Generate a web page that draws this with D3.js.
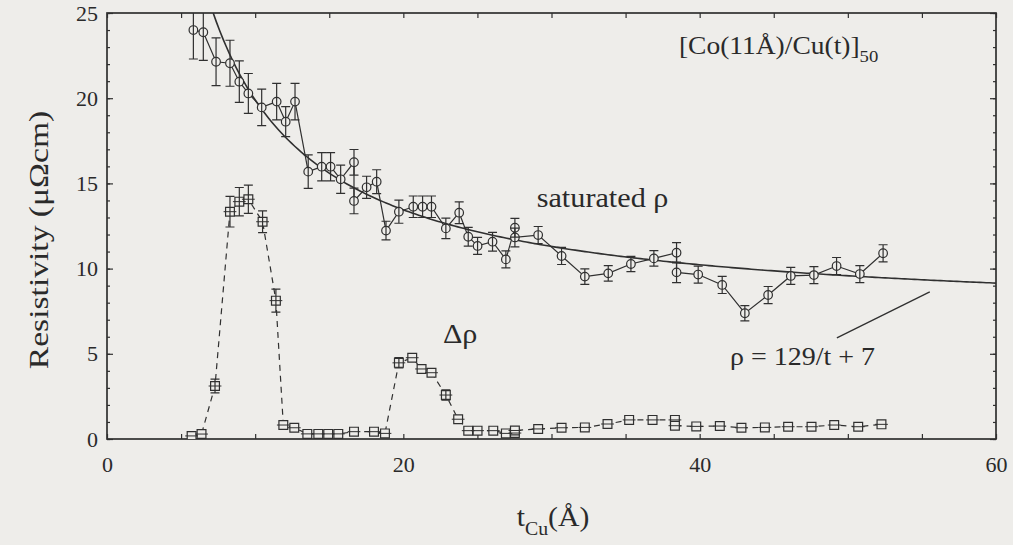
<!DOCTYPE html>
<html>
<head>
<meta charset="utf-8">
<script src="https://cdn.jsdelivr.net/npm/d3@7"></script>
<style>
  html, body { margin: 0; padding: 0; background: #eeedea; }
  svg { display: block; }
  svg text { font-family: "Liberation Serif", "DejaVu Serif", serif; fill: #2a2a2a; }
</style>
</head>
<body>
<svg id="chart" width="1013" height="545"></svg>
<script>
// Saturated resistivity of [Co(11Å)/Cu(t)]50 multilayers vs Cu thickness
const satT   = [5.83, 6.5, 7.36, 8.3, 8.93, 9.54, 10.44, 11.45, 12.06, 12.69, 13.58, 14.49, 15.09, 15.77,
                16.67, 16.67, 17.52, 18.2, 18.83, 19.7, 20.67, 21.3, 21.9, 22.87, 23.77, 24.38, 25.01,
                26.02, 26.92, 27.53, 27.53, 29.1, 30.68, 32.25, 33.83, 35.36, 36.91, 38.44, 38.44,
                39.9, 41.52, 43.05, 44.62, 46.15, 47.71, 49.24, 50.81, 52.38];
const satRho = [24.0, 23.87, 22.14, 22.05, 20.97, 20.28, 19.46, 19.8, 18.62, 19.8, 15.69, 15.98, 15.98, 15.24,
                16.24, 13.97, 14.77, 15.1, 12.23, 13.34, 13.63, 13.63, 13.63, 12.36, 13.28, 11.87, 11.33,
                11.58, 10.54, 12.4, 11.83, 11.97, 10.74, 9.53, 9.72, 10.27, 10.6, 10.93, 9.78,
                9.65, 9.04, 7.38, 8.45, 9.57, 9.62, 10.15, 9.68, 10.9];
const satErr = [1.7, 1.65, 1.4, 1.35, 1.22, 1.17, 1.07, 1.07, 0.88, 1.07, 0.98, 0.83, 0.83, 0.83,
                0.75, 0.75, 0.65, 0.7, 0.55, 0.68, 0.63, 0.63, 0.63, 0.6, 0.64, 0.55, 0.5,
                0.55, 0.5, 0.55, 0.55, 0.5, 0.5, 0.45, 0.45, 0.45, 0.45, 0.6, 0.6,
                0.5, 0.5, 0.45, 0.5, 0.5, 0.5, 0.5, 0.5, 0.5];

// Magnetoresistance amplitude Δρ
const deltaT   = [5.71, 6.38, 7.29, 8.3, 8.93, 9.54, 10.5, 11.4, 11.9, 12.64, 13.52, 14.26, 14.93, 15.61,
                  16.67, 18.02, 18.76, 19.7, 20.6, 21.23, 21.9, 22.87, 23.7, 24.38, 25.01, 26.07, 26.92,
                  27.53, 27.53, 29.1, 30.68, 32.25, 33.78, 35.24, 36.82, 38.33, 38.33, 39.77, 41.36,
                  42.82, 44.4, 45.97, 47.55, 49.08, 50.7, 52.27];
const deltaRho = [0.18, 0.29, 3.11, 13.34, 13.93, 14.07, 12.75, 8.12, 0.82, 0.66, 0.3, 0.3, 0.3, 0.3,
                  0.43, 0.43, 0.33, 4.47, 4.77, 4.11, 3.89, 2.58, 1.16, 0.49, 0.49, 0.49, 0.33,
                  0.35, 0.5, 0.59, 0.66, 0.68, 0.88, 1.12, 1.12, 1.12, 0.78, 0.74, 0.76,
                  0.66, 0.68, 0.72, 0.72, 0.82, 0.72, 0.86];
const deltaErr = [0.12, 0.12, 0.4, 0.9, 0.83, 0.83, 0.64, 0.68, 0.2, 0.2, 0.15, 0.15, 0.15, 0.15,
                  0.2, 0.2, 0.2, 0.3, 0.25, 0.2, 0.2, 0.3, 0.25, 0.15, 0.15, 0.15, 0.15,
                  0.15, 0.15, 0.15, 0.15, 0.15, 0.15, 0.15, 0.15, 0.15, 0.15, 0.15, 0.15,
                  0.15, 0.15, 0.15, 0.15, 0.15, 0.15, 0.15];

// Fit: ρ = A/t + B
const fitA = 129, fitB = 7;

const xTicks = [0, 20, 40, 60];
const yTicks = [0, 5, 10, 15, 20, 25];

const W = 1013, H = 545;
const margin = { left: 107, right: 17, top: 13, bottom: 106 };
const ink = "#303030";
const bg = "#eeedea";
const serif = "'Liberation Serif', 'DejaVu Serif', serif";

const svg = d3.select("#chart");
svg.append("rect").attr("width", W).attr("height", H).attr("fill", bg);

const x = d3.scaleLinear().domain([0, 60]).range([margin.left, W - margin.right]);
const y = d3.scaleLinear().domain([0, 25]).range([H - margin.bottom, margin.top]);

const [x0, x1] = x.range();
const [y0, y1] = y.range();

svg.append("clipPath").attr("id", "plot-clip")
  .append("rect").attr("x", x0).attr("y", y1).attr("width", x1 - x0).attr("height", y0 - y1);

// Axes: inward ticks on all four sides
function axisTicks(axis, scale, values, size) {
  return axis(scale).tickValues(values).tickSize(size).tickFormat("");
}
const xMinor = d3.range(0, 61, 5);
const yMinor = d3.range(0, 26, 1);
const yMajor = d3.range(0, 26, 5);

const axes = svg.append("g").attr("class", "axes");
function styleAxis(g) {
  g.select(".domain").remove();
  g.selectAll("line").attr("stroke", ink).attr("stroke-width", 1.2);
}
axes.append("g").attr("transform", `translate(0,${y0})`).call(axisTicks(d3.axisTop, x, xMinor, 5)).call(styleAxis);
axes.append("g").attr("transform", `translate(0,${y1})`).call(axisTicks(d3.axisBottom, x, xMinor, 5)).call(styleAxis);
axes.append("g").attr("transform", `translate(${x0},0)`).call(axisTicks(d3.axisRight, y, yMinor, 3)).call(styleAxis);
axes.append("g").attr("transform", `translate(${x0},0)`).call(axisTicks(d3.axisRight, y, yMajor, 6)).call(styleAxis);
axes.append("g").attr("transform", `translate(${x1},0)`).call(axisTicks(d3.axisLeft, y, yMinor, 3)).call(styleAxis);
axes.append("g").attr("transform", `translate(${x1},0)`).call(axisTicks(d3.axisLeft, y, yMajor, 6)).call(styleAxis);

// Frame
svg.append("rect").attr("x", x0).attr("y", y1).attr("width", x1 - x0).attr("height", y0 - y1)
  .attr("fill", "none").attr("stroke", ink).attr("stroke-width", 1.7);

// Tick labels
const xLab = d3.axisBottom(x).tickValues(xTicks).tickSize(0).tickPadding(0).tickFormat(d3.format("d"));
const gx = svg.append("g").attr("transform", `translate(0,${y0 + 26})`).call(xLab);
gx.attr("font-family", null).attr("font-size", null);
gx.select(".domain").remove();
gx.selectAll("text").attr("font-size", 22).attr("dy", "0.32em").attr("y", 0).attr("font-family", serif);

const yLab = d3.axisLeft(y).tickValues(yTicks).tickSize(0).tickPadding(0).tickFormat(d3.format("d"));
const gy = svg.append("g").attr("transform", `translate(${x0 - 9},0)`).call(yLab);
gy.attr("font-family", null).attr("font-size", null);
gy.select(".domain").remove();
gy.selectAll("text").attr("font-size", 22).attr("font-family", serif);

// Plot contents
const plot = svg.append("g").attr("clip-path", "url(#plot-clip)");

// Fit curve ρ = A/t + B from where it enters the frame to t = 60
const tStart = fitA / (25 - fitB);
const fitT = d3.range(0, 241).map(i => tStart + (60 - tStart) * i / 240);
plot.append("path")
  .attr("d", d3.line().x(t => x(t)).y(t => y(fitA / t + fitB))(fitT))
  .attr("fill", "none").attr("stroke", ink).attr("stroke-width", 1.6);

const sat = satT.map((t, i) => ({ t, v: satRho[i], e: satErr[i] }));
const del = deltaT.map((t, i) => ({ t, v: deltaRho[i], e: deltaErr[i] }));

// Δρ: dashed connecting line
plot.append("path")
  .attr("d", d3.line().x(d => x(d.t)).y(d => y(d.v))(del))
  .attr("fill", "none").attr("stroke", ink).attr("stroke-width", 1.2).attr("stroke-dasharray", "6,5");

// saturated ρ: connecting line
plot.append("path")
  .attr("d", d3.line().x(d => x(d.t)).y(d => y(d.v))(sat))
  .attr("fill", "none").attr("stroke", ink).attr("stroke-width", 1.2);

function errorBars(data, cap) {
  const g = plot.append("g").attr("stroke", ink).attr("stroke-width", 1.2).attr("fill", "none");
  g.selectAll("path").data(data).join("path")
    .attr("d", d => {
      const xa = x(d.t), ya = y(d.v + d.e), yb = y(d.v - d.e);
      return `M${xa - cap},${ya}H${xa + cap}M${xa},${ya}V${yb}M${xa - cap},${yb}H${xa + cap}`;
    });
}

// Squares
const sq = 4.4;
plot.append("g").selectAll("path").data(del).join("path")
  .attr("d", d => {
    const cx = x(d.t), cy = y(d.v);
    return `M${cx - sq},${cy - sq}h${2 * sq}v${2 * sq}h${-2 * sq}Z`;
  })
  .attr("fill", bg).attr("stroke", ink).attr("stroke-width", 1.2);
plot.append("g").selectAll("path").data(del).join("path")
  .attr("d", d => { const cx = x(d.t), cy = y(d.v); return `M${cx - sq - 2},${cy}H${cx + sq + 2}`; })
  .attr("stroke", ink).attr("stroke-width", 1);
errorBars(del.filter(d => d.e >= 0.3), 4.5);

// Circles
plot.append("g").selectAll("circle").data(sat).join("circle")
  .attr("cx", d => x(d.t)).attr("cy", d => y(d.v)).attr("r", 4.3)
  .attr("fill", bg).attr("stroke", ink).attr("stroke-width", 1.2);
errorBars(sat, 4.5);

// Annotations
function label(txt, t, v, size) {
  return svg.append("g").attr("transform", `translate(${x(t)},${y(v)}) scale(1.12,1)`)
    .append("text").attr("font-size", size).attr("font-family", serif).text(txt);
}
label("saturated ρ", 29.0, 13.6, 27);
label("Δρ", 22.67, 5.64, 27);
label("ρ = 129/t + 7", 42.05, 4.35, 25);

// leader from the fit formula to the curve
svg.append("line")
  .attr("x1", x(49.26)).attr("y1", y(5.93)).attr("x2", x(55.53)).attr("y2", y(8.63))
  .attr("stroke", ink).attr("stroke-width", 1.3);

// Sample label
const ttl = svg.append("g").attr("transform", `translate(${x(38.6)},${y(22.6)}) scale(1.1,1)`)
  .append("text").attr("font-size", 25).attr("font-family", serif);
ttl.append("tspan").text("[Co(11Å)/Cu(t)]");
ttl.append("tspan").attr("font-size", 17).attr("dy", 8).text("50");

// Axis titles
const xt = svg.append("g").attr("transform", `translate(553,526) scale(1.1,1)`)
  .append("text").attr("font-size", 27).attr("text-anchor", "middle").attr("font-family", serif);
xt.append("tspan").text("t");
xt.append("tspan").attr("font-size", 18).attr("dy", 9).text("Cu");
xt.append("tspan").attr("dy", -9).text("(Å)");

svg.append("g").attr("transform", `translate(48,240) rotate(-90) scale(1.2,1)`)
  .append("text").attr("font-size", 28).attr("text-anchor", "middle").attr("font-family", serif)
  .text("Resistivity (μΩcm)");
</script>
</body>
</html>
